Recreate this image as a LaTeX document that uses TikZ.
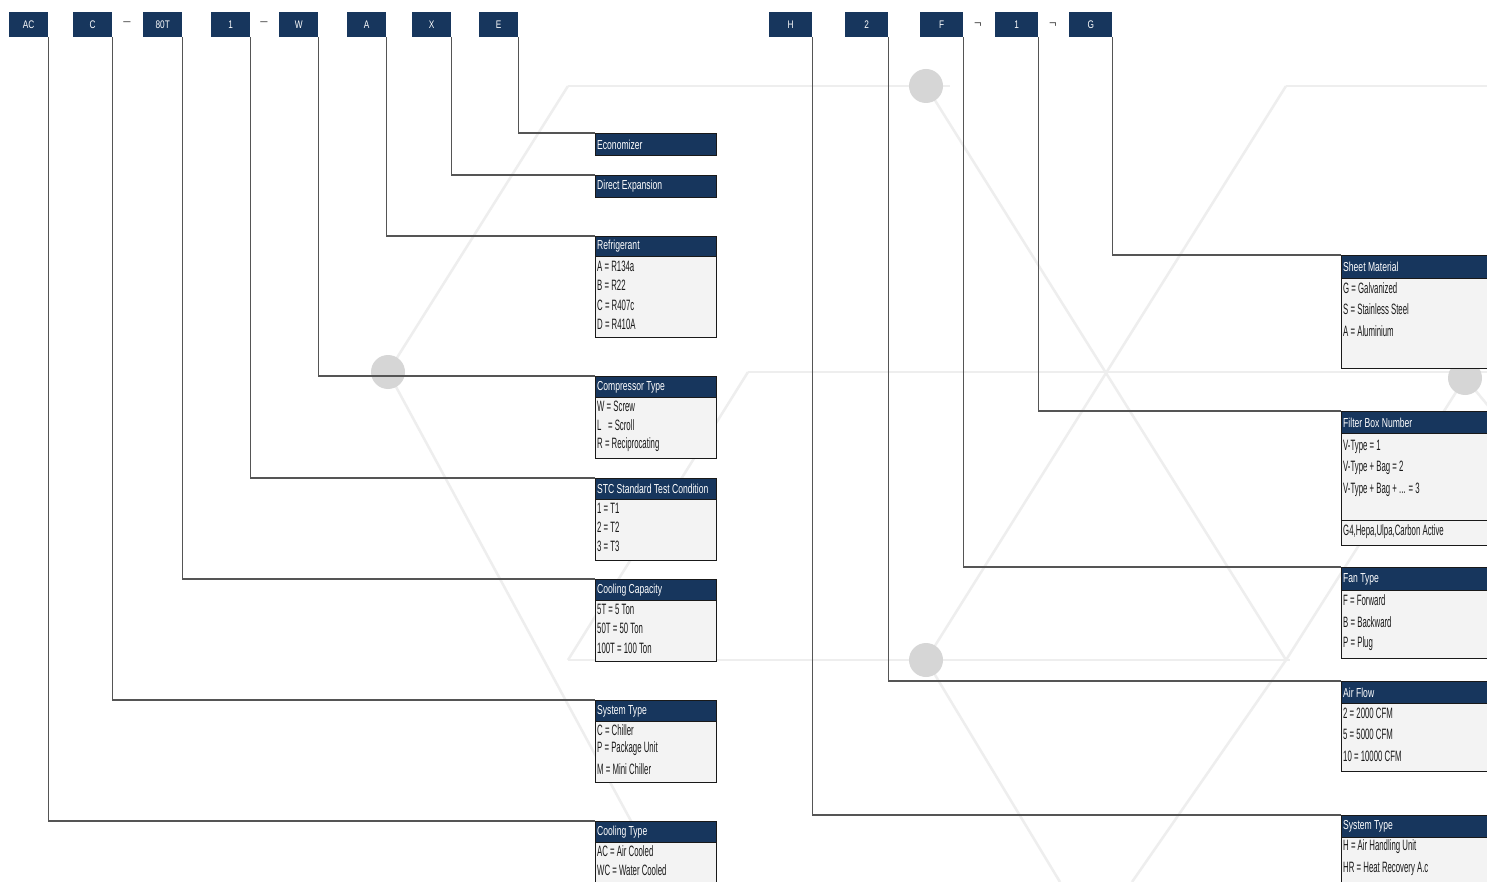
\documentclass[tikz,border=0pt]{standalone}
\usepackage{fontspec}
\setmainfont{Liberation Sans}
\newfontfamily\bodyf[FakeStretch=0.52]{Liberation Sans}
\newfontfamily\ttlf[FakeStretch=0.66]{Liberation Sans}
\newfontfamily\keyf[FakeStretch=0.75]{Liberation Sans}
\definecolor{navy}{HTML}{17365D}
\definecolor{bodyfill}{HTML}{F3F3F3}
\definecolor{connc}{HTML}{555555}
\definecolor{bgl}{HTML}{EEEEEE}
\definecolor{bgdot}{HTML}{D6D6D6}
\pgfdeclarelayer{bg}
\pgfdeclarelayer{conn}
\pgfsetlayers{bg,conn,main}
\begin{document}
\begin{tikzpicture}[x=1pt,y=-1pt,
  keybox/.style={fill=navy, text=white, minimum height=25pt, inner sep=0pt, anchor=north west, font=\keyf\fontsize{11}{12}\selectfont},
  sepdash/.style={text=black!70, font=\fontsize{13}{13}\selectfont, inner sep=0pt},
  ttl/.style={fill=navy, draw=black!90, line width=0.9pt, inner sep=0pt, anchor=north west},
  ttltext/.style={text=white, anchor=west, inner sep=0pt, font=\ttlf\fontsize{13}{14}\selectfont},
  bodybox/.style={fill=bodyfill, draw=black!90, line width=1.4pt, inner sep=0pt, anchor=north west},
  item/.style={text=black!90, anchor=west, inner sep=0pt, font=\bodyf\fontsize{15}{16}\selectfont},
  conn/.style={draw=connc, line width=1.3pt},
  bgline/.style={draw=bgl, line width=2.5pt},
  bgcirc/.style={fill=bgdot}]
\useasboundingbox (0,0) rectangle (1487,882);
\clip (0,0) rectangle (1487,882);

% ---------- background pattern ----------
\begin{pgfonlayer}{bg}
\fill[white] (0,0) rectangle (1487,882);
\draw[bgline] (568,86) -- (950,86);
\draw[bgline] (1286,86) -- (1500,86);
\draw[bgline] (388,372) -- (568,86);
\draw[bgline] (388,372) -- (664,882);
\draw[bgline] (748,372) -- (1500,372);
\draw[bgline] (748,372) -- (568,660);
\draw[bgline] (568,660) -- (1290,660);
\draw[bgline] (926,86) -- (1286,660);
\draw[bgline] (1286,86) -- (926,660);
\draw[bgline] (926,660) -- (1060,882);
\draw[bgline] (1286,660) -- (1132,882);
\draw[bgline] (1286,660) -- (1465,378);
\draw[bgline] (1465,378) -- (1500,420);
\fill[bgcirc] (926,86) circle (17);
\fill[bgcirc] (388,372) circle (17);
\fill[bgcirc] (926,660) circle (17);
\fill[bgcirc] (1465,378) circle (17);
\end{pgfonlayer}

% ---------- code keys ----------
\node[keybox, minimum width=39pt] (kAC)  at (9,12)   {AC};
\node[keybox, minimum width=39pt] (kC)   at (73,12)  {C};
\node[sepdash] (d1) at (127,24) {--};
\node[keybox, minimum width=39pt] (k80T) at (143,12) {80T};
\node[keybox, minimum width=39pt] (kOne) at (211,12) {1};
\node[sepdash] (d2) at (264,24) {--};
\node[keybox, minimum width=39pt] (kW)   at (279,12) {W};
\node[keybox, minimum width=39pt] (kA)   at (347,12) {A};
\node[keybox, minimum width=39pt] (kX)   at (412,12) {X};
\node[keybox, minimum width=39pt] (kE)   at (479,12) {E};

\node[keybox, minimum width=43pt] (kH)    at (769,12)  {H};
\node[keybox, minimum width=43pt] (kTwo)  at (845,12)  {2};
\node[keybox, minimum width=43pt] (kF)    at (920,12)  {F};
\node[sepdash] (d3) at (978,25) {¬};
\node[keybox, minimum width=43pt] (kOneB) at (995,12)  {1};
\node[sepdash] (d4) at (1053,25) {¬};
\node[keybox, minimum width=43pt] (kG)    at (1069,12) {G};

% ---------- left legend boxes ----------
\node[ttl, minimum width=121pt, minimum height=22pt] (Econ) at (595,133) {};
\node[ttltext] at ([xshift=2pt]Econ.west) {Economizer};

\node[ttl, minimum width=121pt, minimum height=22pt] (DX) at (595,175) {};
\node[ttltext] at ([xshift=2pt]DX.west) {Direct Expansion};

\node[bodybox, minimum width=121pt, minimum height=101pt] (Refb) at (595,236) {};
\node[ttl, minimum width=121pt, minimum height=20pt] (Ref) at (595,236) {};
\node[ttltext] at ([xshift=2pt]Ref.west) {Refrigerant};
\node[item] at (597,266) {A = R134a};
\node[item] at (597,285) {B = R22};
\node[item] at (597,305) {C = R407c};
\node[item] at (597,324) {D = R410A};

\node[bodybox, minimum width=121pt, minimum height=82pt] (Compb) at (595,376) {};
\node[ttl, minimum width=121pt, minimum height=21pt] (Comp) at (595,376) {};
\node[ttltext] at ([xshift=2pt]Comp.west) {Compressor Type};
\node[item] at (597,406) {W = Screw};
\node[item] at (597,425) {L\ \ \ = Scroll};
\node[item] at (597,445) {R = Reciprocating};

\node[bodybox, minimum width=121pt, minimum height=82pt] (STCb) at (595,478) {};
\node[ttl, minimum width=121pt, minimum height=21pt] (STC) at (595,478) {};
\node[ttltext] at ([xshift=2pt]STC.west) {STC Standard Test Condition};
\node[item] at (597,508) {1 = T1};
\node[item] at (597,527) {2 = T2};
\node[item] at (597,546) {3 = T3};

\node[bodybox, minimum width=121pt, minimum height=82pt] (Capb) at (595,579) {};
\node[ttl, minimum width=121pt, minimum height=21pt] (Cap) at (595,579) {};
\node[ttltext] at ([xshift=2pt]Cap.west) {Cooling Capacity};
\node[item] at (597,609) {5T = 5 Ton};
\node[item] at (597,628) {50T = 50 Ton};
\node[item] at (597,648) {100T = 100 Ton};

\node[bodybox, minimum width=121pt, minimum height=82pt] (Sysb) at (595,700) {};
\node[ttl, minimum width=121pt, minimum height=21pt] (Sys) at (595,700) {};
\node[ttltext] at ([xshift=2pt]Sys.west) {System Type};
\node[item] at (597,730) {C = Chiller};
\node[item] at (597,749) {P = Package Unit};
\node[item] at (597,769) {M = Mini Chiller};

\node[bodybox, minimum width=121pt, minimum height=75pt] (CTb) at (595,821) {};
\node[ttl, minimum width=121pt, minimum height=21pt] (CT) at (595,821) {};
\node[ttltext] at ([xshift=2pt]CT.west) {Cooling Type};
\node[item] at (597,851) {AC = Air Cooled};
\node[item] at (597,870) {WC = Water Cooled};

% ---------- right legend boxes ----------
\node[bodybox, minimum width=160pt, minimum height=113pt] (Sheetb) at (1341,255) {};
\node[ttl, minimum width=160pt, minimum height=23pt] (Sheet) at (1341,255) {};
\node[ttltext] at ([xshift=2pt]Sheet.west) {Sheet Material};
\node[item] at (1343,288) {G = Galvanized};
\node[item] at (1343,309) {S = Stainless Steel};
\node[item] at (1343,331) {A = Aluminium};

\node[bodybox, minimum width=160pt, minimum height=109pt] (Filtb) at (1341,411) {};
\node[bodybox, minimum width=160pt, minimum height=25pt] (FiltG) at (1341,520) {};
\node[ttl, minimum width=160pt, minimum height=22pt] (Filt) at (1341,411) {};
\node[ttltext] at ([xshift=2pt]Filt.west) {Filter Box Number};
\node[item] at (1343,447) {V-Type = 1};
\node[item] at (1343,468) {V-Type + Bag = 2};
\node[item] at (1343,490) {V-Type + Bag + ... = 3};
\node[item] at (1343,532) {G4,Hepa,Ulpa,Carbon Active};

\node[bodybox, minimum width=160pt, minimum height=91pt] (Fanb) at (1341,567) {};
\node[ttl, minimum width=160pt, minimum height=23pt] (Fan) at (1341,567) {};
\node[ttltext] at ([xshift=2pt]Fan.west) {Fan Type};
\node[item] at (1343,600) {F = Forward};
\node[item] at (1343,622) {B = Backward};
\node[item] at (1343,644) {P = Plug};

\node[bodybox, minimum width=160pt, minimum height=90pt] (Airb) at (1341,681) {};
\node[ttl, minimum width=160pt, minimum height=22pt] (Air) at (1341,681) {};
\node[ttltext] at ([xshift=2pt]Air.west) {Air Flow};
\node[item] at (1343,713) {2 = 2000 CFM};
\node[item] at (1343,734) {5 = 5000 CFM};
\node[item] at (1343,756) {10 = 10000 CFM};

\node[bodybox, minimum width=160pt, minimum height=80pt] (SysBb) at (1341,815) {};
\node[ttl, minimum width=160pt, minimum height=22pt] (SysB) at (1341,815) {};
\node[ttltext] at ([xshift=2pt]SysB.west) {System Type};
\node[item] at (1343,847) {H = Air Handling Unit};
\node[item] at (1343,869) {HR = Heat Recovery A.c};

% ---------- connectors ----------
\begin{pgfonlayer}{conn}
\draw[conn] (kE.south east) |- (Econ.north west);
\draw[conn] (kX.south east) |- (DX.north west);
\draw[conn] (kA.south east) |- (Ref.north west);
\draw[conn] (kW.south east) |- (Comp.north west);
\draw[conn] (kOne.south east) |- (STC.north west);
\draw[conn] (k80T.south east) |- (Cap.north west);
\draw[conn] (kC.south east) |- (Sys.north west);
\draw[conn] (kAC.south east) |- (CT.north west);
\draw[conn] (kG.south east) |- (Sheet.north west);
\draw[conn] (kOneB.south east) |- (Filt.north west);
\draw[conn] (kF.south east) |- (Fan.north west);
\draw[conn] (kTwo.south east) |- (Air.north west);
\draw[conn] (kH.south east) |- (SysB.north west);
\end{pgfonlayer}
\end{tikzpicture}
\end{document}
